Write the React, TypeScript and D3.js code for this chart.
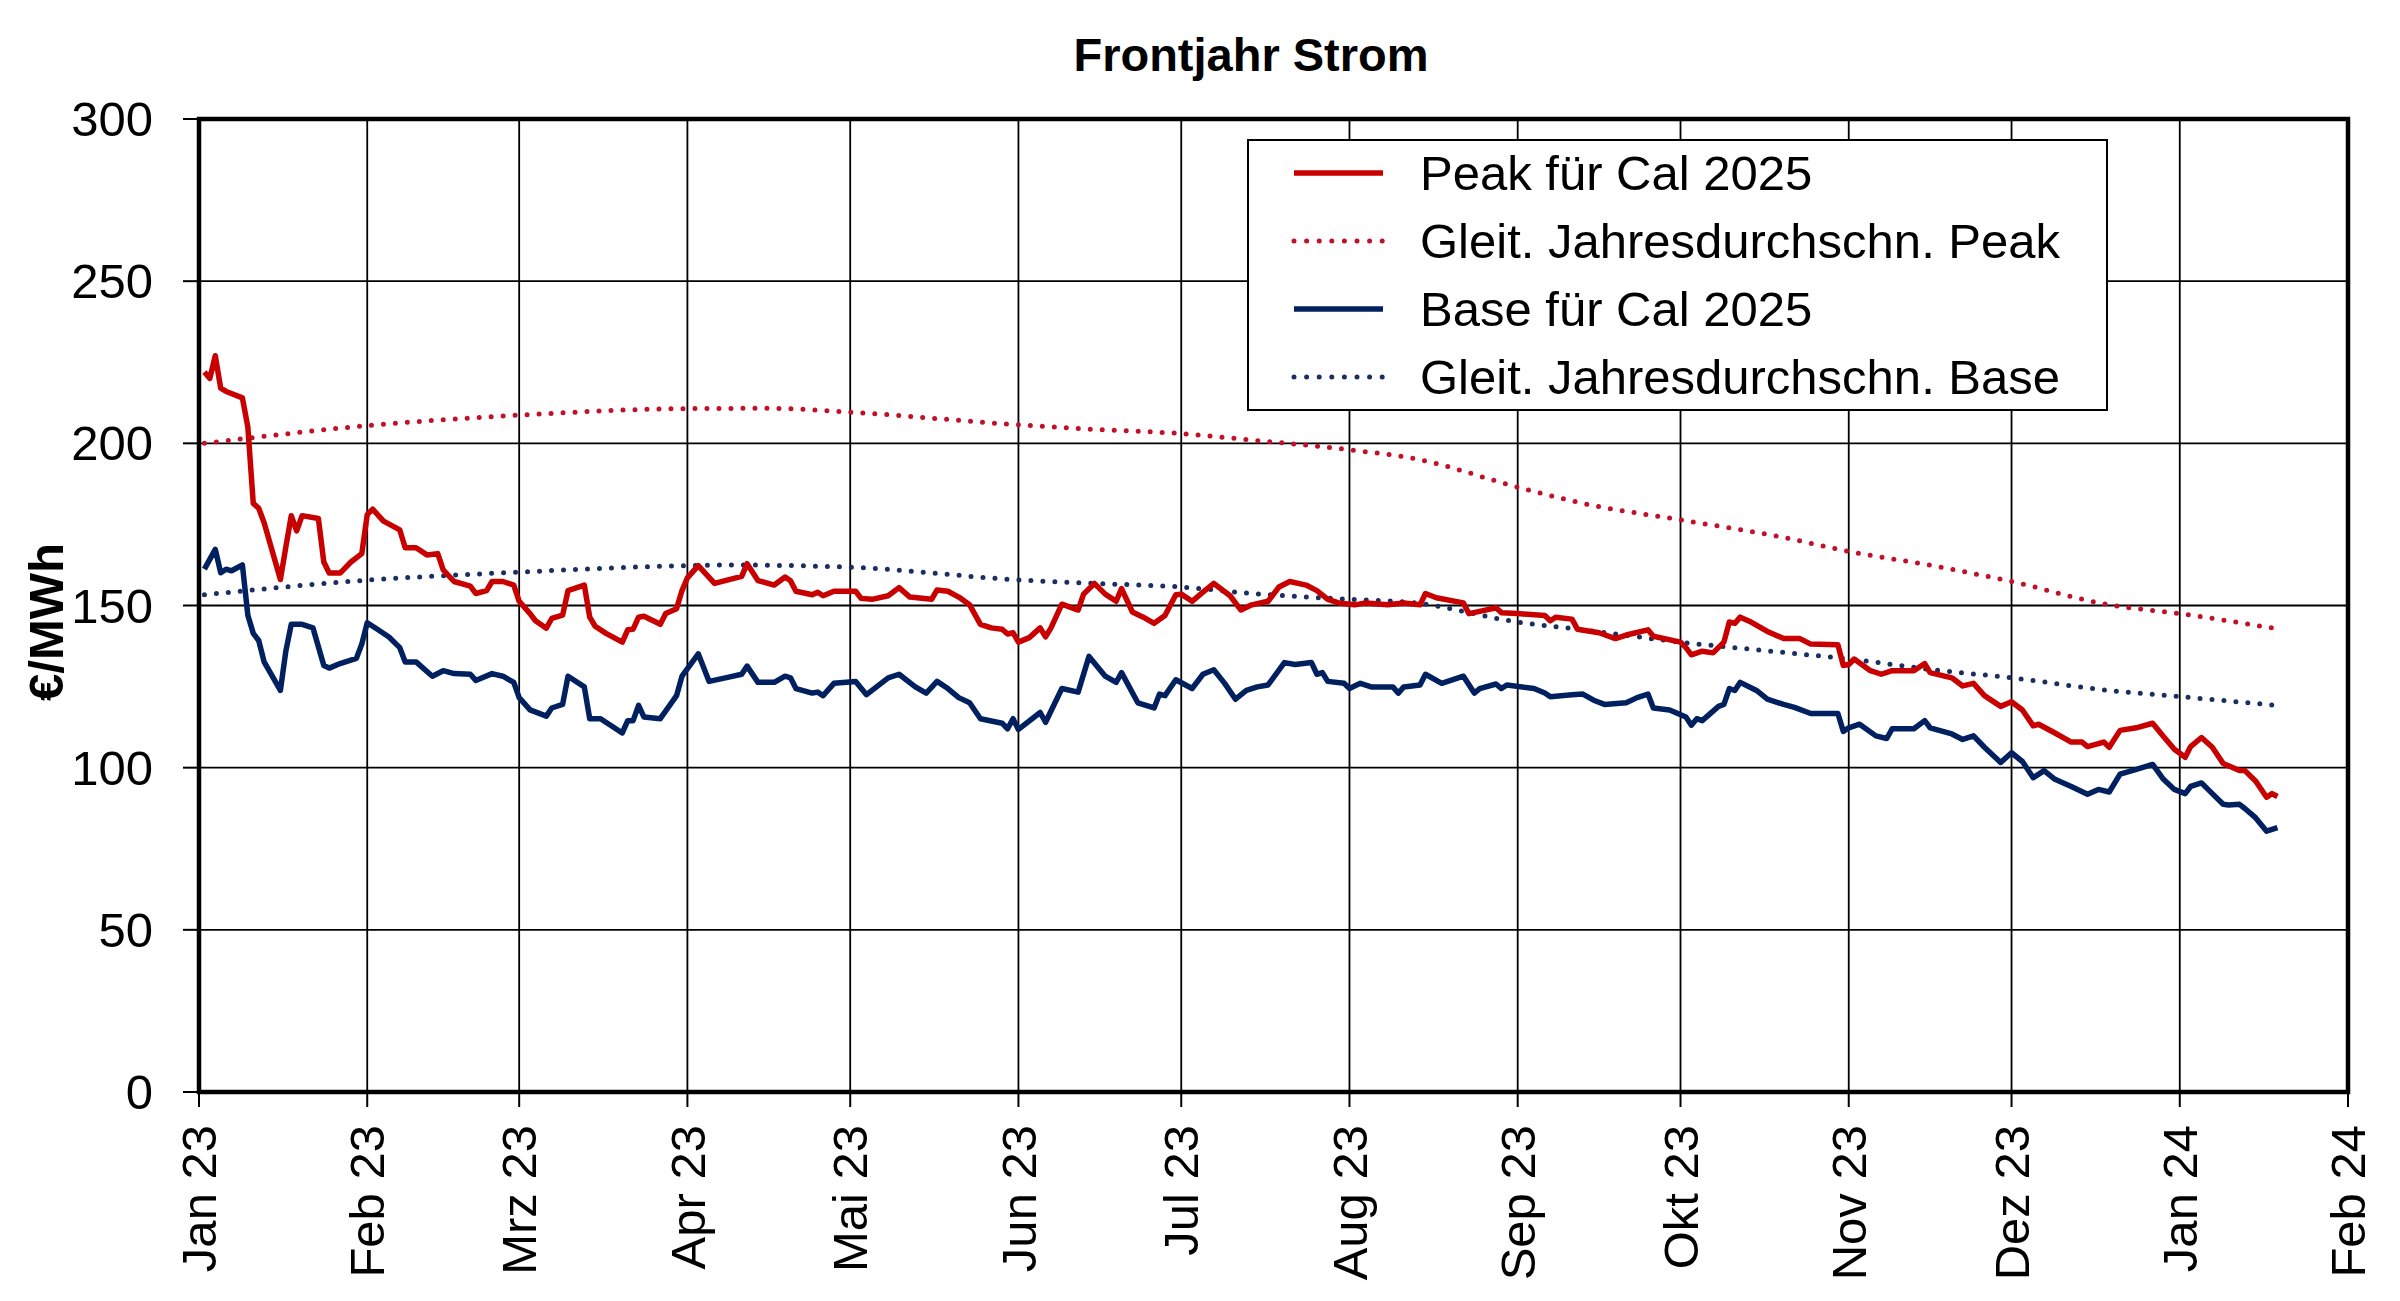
import React from "react";
import * as d3 from "d3";

const title = "Frontjahr Strom";
const yLabel = "€/MWh";
const yTicks = [0, 50, 100, 150, 200, 250, 300];
const xTickLabels = ["Jan 23", "Feb 23", "Mrz 23", "Apr 23", "Mai 23", "Jun 23", "Jul 23", "Aug 23", "Sep 23", "Okt 23", "Nov 23", "Dez 23", "Jan 24", "Feb 24"];
const seriesNames = ["Peak für Cal 2025", "Gleit. Jahresdurchschn. Peak", "Base für Cal 2025", "Gleit. Jahresdurchschn. Base"];

const peakSeries: [string, number][] = [
  ["2023-01-02", 222], ["2023-01-03", 220], ["2023-01-04", 227], ["2023-01-05", 217], ["2023-01-06", 216],
  ["2023-01-09", 214], ["2023-01-10", 205], ["2023-01-11", 181.5], ["2023-01-12", 180], ["2023-01-13", 175.5],
  ["2023-01-16", 158], ["2023-01-17", 168], ["2023-01-18", 177.7], ["2023-01-19", 173], ["2023-01-20", 177.7],
  ["2023-01-23", 176.8], ["2023-01-24", 163.4], ["2023-01-25", 160], ["2023-01-27", 160], ["2023-01-29", 163.4],
  ["2023-01-31", 166], ["2023-02-01", 178], ["2023-02-02", 179.7], ["2023-02-04", 176], ["2023-02-07", 173.3],
  ["2023-02-08", 167.8], ["2023-02-10", 167.8], ["2023-02-12", 165.6], ["2023-02-14", 166], ["2023-02-15", 161],
  ["2023-02-17", 157.4], ["2023-02-20", 156], ["2023-02-21", 153.7], ["2023-02-23", 154.6], ["2023-02-24", 157.4],
  ["2023-02-26", 157.4], ["2023-02-28", 156.3], ["2023-03-01", 151.3], ["2023-03-03", 147.5], ["2023-03-04", 145.3],
  ["2023-03-06", 143], ["2023-03-07", 146], ["2023-03-09", 147], ["2023-03-10", 154.6], ["2023-03-13", 156.3],
  ["2023-03-14", 146.4], ["2023-03-15", 143.6], ["2023-03-17", 141.4], ["2023-03-20", 138.7], ["2023-03-21", 142.5],
  ["2023-03-22", 142.7], ["2023-03-23", 146.4], ["2023-03-24", 146.7], ["2023-03-27", 144.2], ["2023-03-28", 147.5],
  ["2023-03-30", 149], ["2023-03-31", 154.6], ["2023-04-01", 158.5], ["2023-04-03", 162.3], ["2023-04-06", 156.8],
  ["2023-04-11", 159], ["2023-04-12", 162.9], ["2023-04-14", 157.7], ["2023-04-17", 156.3], ["2023-04-19", 158.8],
  ["2023-04-20", 157.6], ["2023-04-21", 154.4], ["2023-04-24", 153.3], ["2023-04-25", 154.1], ["2023-04-26", 153],
  ["2023-04-28", 154.4], ["2023-05-02", 154.4], ["2023-05-03", 152.2], ["2023-05-05", 151.9], ["2023-05-08", 153],
  ["2023-05-10", 155.5], ["2023-05-12", 152.6], ["2023-05-16", 151.9], ["2023-05-17", 154.8], ["2023-05-19", 154.4],
  ["2023-05-21", 152.6], ["2023-05-23", 150.2], ["2023-05-25", 144.2], ["2023-05-27", 143.1], ["2023-05-29", 142.7],
  ["2023-05-30", 141.2], ["2023-05-31", 141.6], ["2023-06-01", 138.7], ["2023-06-03", 140.1], ["2023-06-05", 143.1],
  ["2023-06-06", 140.3], ["2023-06-07", 143.1], ["2023-06-09", 150.4], ["2023-06-12", 148.6], ["2023-06-13", 153.5],
  ["2023-06-15", 156.8], ["2023-06-17", 153.5], ["2023-06-19", 151.3], ["2023-06-20", 155.2], ["2023-06-22", 148],
  ["2023-06-24", 146.4], ["2023-06-26", 144.5], ["2023-06-28", 146.9], ["2023-06-30", 153.3], ["2023-07-01", 153.5],
  ["2023-07-03", 151.3], ["2023-07-05", 154.1], ["2023-07-07", 156.8], ["2023-07-10", 153], ["2023-07-12", 148.6],
  ["2023-07-14", 150.2], ["2023-07-17", 151.3], ["2023-07-19", 155.7], ["2023-07-21", 157.4], ["2023-07-24", 156.3],
  ["2023-07-26", 154.6], ["2023-07-28", 151.9], ["2023-07-30", 150.8], ["2023-08-02", 150.2], ["2023-08-04", 150.8],
  ["2023-08-08", 150.2], ["2023-08-11", 150.8], ["2023-08-14", 150.2], ["2023-08-15", 153.7], ["2023-08-17", 152.4],
  ["2023-08-22", 150.8], ["2023-08-23", 147.5], ["2023-08-25", 148.2], ["2023-08-28", 149.3], ["2023-08-29", 147.8],
  ["2023-09-01", 147.5], ["2023-09-06", 146.9], ["2023-09-07", 145.3], ["2023-09-08", 146.4], ["2023-09-11", 145.8],
  ["2023-09-12", 142.7], ["2023-09-16", 141.6], ["2023-09-19", 139.8], ["2023-09-21", 140.9], ["2023-09-25", 142.5],
  ["2023-09-26", 140.5], ["2023-10-01", 138.7], ["2023-10-02", 137], ["2023-10-03", 134.8], ["2023-10-05", 135.9],
  ["2023-10-07", 135.4], ["2023-10-09", 138.7], ["2023-10-10", 144.9], ["2023-10-11", 144.5], ["2023-10-12", 146.4],
  ["2023-10-14", 144.9], ["2023-10-17", 142], ["2023-10-20", 139.8], ["2023-10-23", 139.8], ["2023-10-25", 138.1],
  ["2023-10-30", 137.9], ["2023-10-31", 131.5], ["2023-11-01", 131.8], ["2023-11-02", 133.5], ["2023-11-05", 129.9],
  ["2023-11-07", 128.8], ["2023-11-09", 129.9], ["2023-11-13", 129.9], ["2023-11-15", 132.1], ["2023-11-16", 129.3],
  ["2023-11-20", 127.7], ["2023-11-22", 125.2], ["2023-11-24", 126], ["2023-11-26", 122.2], ["2023-11-29", 118.9],
  ["2023-12-01", 120.3], ["2023-12-03", 117.8], ["2023-12-05", 112.9], ["2023-12-06", 113.4], ["2023-12-09", 110.7],
  ["2023-12-12", 107.9], ["2023-12-14", 107.9], ["2023-12-15", 106.5], ["2023-12-17", 107.4], ["2023-12-18", 107.9],
  ["2023-12-19", 106.3], ["2023-12-21", 111.5], ["2023-12-24", 112.3], ["2023-12-27", 113.7], ["2023-12-29", 109.6],
  ["2023-12-31", 105.7], ["2024-01-02", 103.2], ["2024-01-03", 106.5], ["2024-01-05", 109.3], ["2024-01-07", 106.3],
  ["2024-01-09", 101.3], ["2024-01-12", 99.1], ["2024-01-13", 99.1], ["2024-01-15", 95.8], ["2024-01-17", 90.9],
  ["2024-01-18", 92], ["2024-01-19", 91.1],
];

const baseSeries: [string, number][] = [
  ["2023-01-02", 161.2], ["2023-01-04", 167.3], ["2023-01-05", 160.1], ["2023-01-06", 161.2], ["2023-01-07", 160.7],
  ["2023-01-09", 162.5], ["2023-01-10", 147], ["2023-01-11", 141.4], ["2023-01-12", 139.2], ["2023-01-13", 132.6],
  ["2023-01-16", 123.8], ["2023-01-17", 135.9], ["2023-01-18", 144.2], ["2023-01-20", 144.2], ["2023-01-22", 143.1],
  ["2023-01-24", 131.5], ["2023-01-25", 130.7], ["2023-01-27", 132.1], ["2023-01-30", 133.7], ["2023-01-31", 138.1],
  ["2023-02-01", 144.7], ["2023-02-03", 142.5], ["2023-02-05", 140.3], ["2023-02-07", 137], ["2023-02-08", 132.6],
  ["2023-02-10", 132.6], ["2023-02-13", 128.2], ["2023-02-15", 129.9], ["2023-02-17", 129], ["2023-02-20", 128.8],
  ["2023-02-21", 126.9], ["2023-02-24", 129], ["2023-02-26", 128.2], ["2023-02-28", 126.3], ["2023-03-01", 121.6],
  ["2023-03-03", 117.8], ["2023-03-06", 115.9], ["2023-03-07", 118.4], ["2023-03-09", 119.5], ["2023-03-10", 128.2],
  ["2023-03-13", 124.9], ["2023-03-14", 115.1], ["2023-03-16", 115.1], ["2023-03-20", 110.7], ["2023-03-21", 114.5],
  ["2023-03-22", 114.5], ["2023-03-23", 119.2], ["2023-03-24", 115.6], ["2023-03-27", 115.1], ["2023-03-30", 122.2],
  ["2023-03-31", 128.2], ["2023-04-03", 135.1], ["2023-04-05", 126.6], ["2023-04-08", 127.7], ["2023-04-11", 128.8],
  ["2023-04-12", 131.3], ["2023-04-14", 126.3], ["2023-04-17", 126.3], ["2023-04-19", 128.2], ["2023-04-20", 127.7],
  ["2023-04-21", 124.4], ["2023-04-24", 123], ["2023-04-25", 123.3], ["2023-04-26", 122.2], ["2023-04-28", 126],
  ["2023-05-02", 126.6], ["2023-05-04", 122.5], ["2023-05-08", 127.7], ["2023-05-10", 128.8], ["2023-05-13", 124.9],
  ["2023-05-15", 123], ["2023-05-17", 126.6], ["2023-05-19", 124.4], ["2023-05-21", 121.6], ["2023-05-23", 120],
  ["2023-05-25", 115.1], ["2023-05-29", 113.7], ["2023-05-30", 112], ["2023-05-31", 115.1], ["2023-06-01", 111.8],
  ["2023-06-05", 117], ["2023-06-06", 114], ["2023-06-09", 124.4], ["2023-06-12", 123.3], ["2023-06-14", 134.3],
  ["2023-06-17", 128.2], ["2023-06-19", 126.3], ["2023-06-20", 129.3], ["2023-06-23", 120], ["2023-06-26", 118.4],
  ["2023-06-27", 122.7], ["2023-06-28", 122.2], ["2023-06-30", 127.1], ["2023-07-03", 124.4], ["2023-07-05", 128.8],
  ["2023-07-07", 130.2], ["2023-07-09", 126], ["2023-07-11", 121.1], ["2023-07-13", 123.8], ["2023-07-15", 124.9],
  ["2023-07-17", 125.5], ["2023-07-20", 132.4], ["2023-07-22", 131.8], ["2023-07-25", 132.4], ["2023-07-26", 128.8],
  ["2023-07-27", 129.3], ["2023-07-28", 126.6], ["2023-07-31", 126], ["2023-08-01", 124.4], ["2023-08-03", 126],
  ["2023-08-05", 124.9], ["2023-08-09", 124.9], ["2023-08-10", 123], ["2023-08-11", 124.9], ["2023-08-14", 125.5],
  ["2023-08-15", 128.8], ["2023-08-18", 126], ["2023-08-22", 128.2], ["2023-08-24", 123], ["2023-08-25", 124.4],
  ["2023-08-28", 125.8], ["2023-08-29", 124.4], ["2023-08-30", 125.5], ["2023-09-04", 124.4], ["2023-09-06", 123],
  ["2023-09-07", 121.9], ["2023-09-11", 122.5], ["2023-09-13", 122.7], ["2023-09-15", 120.8], ["2023-09-17", 119.5],
  ["2023-09-21", 120], ["2023-09-23", 121.6], ["2023-09-25", 122.7], ["2023-09-26", 118.4], ["2023-09-29", 117.8],
  ["2023-10-02", 115.6], ["2023-10-03", 113.1], ["2023-10-04", 115.1], ["2023-10-05", 114.5], ["2023-10-08", 118.9],
  ["2023-10-09", 119.5], ["2023-10-10", 124.4], ["2023-10-11", 123.8], ["2023-10-12", 126.3], ["2023-10-15", 123.8],
  ["2023-10-17", 121.1], ["2023-10-20", 119.5], ["2023-10-22", 118.6], ["2023-10-25", 116.7], ["2023-10-30", 116.7],
  ["2023-10-31", 111.2], ["2023-11-01", 112.3], ["2023-11-03", 113.4], ["2023-11-06", 109.8], ["2023-11-08", 109],
  ["2023-11-09", 112], ["2023-11-13", 112], ["2023-11-15", 114.5], ["2023-11-16", 112.3], ["2023-11-20", 110.4],
  ["2023-11-22", 108.7], ["2023-11-24", 109.8], ["2023-11-26", 106.3], ["2023-11-29", 101.6], ["2023-12-01", 104.6],
  ["2023-12-03", 101.9], ["2023-12-05", 96.9], ["2023-12-07", 99.1], ["2023-12-09", 96.4], ["2023-12-12", 94.2],
  ["2023-12-15", 91.8], ["2023-12-17", 93.3], ["2023-12-19", 92.5], ["2023-12-21", 98], ["2023-12-24", 99.5],
  ["2023-12-27", 101], ["2023-12-29", 96.4], ["2023-12-31", 93.3], ["2024-01-02", 92], ["2024-01-03", 94.2],
  ["2024-01-05", 95.3], ["2024-01-07", 92], ["2024-01-09", 88.7], ["2024-01-10", 88.5], ["2024-01-12", 88.7],
  ["2024-01-13", 87.4], ["2024-01-15", 84.5], ["2024-01-17", 80.4], ["2024-01-19", 81.5],
];

const peakAvgSeries: [string, number][] = [
  ["2023-01-02", 200], ["2023-01-31", 205.3], ["2023-03-01", 208.7], ["2023-04-01", 210.7], ["2023-04-16", 210.8],
  ["2023-05-01", 209.6], ["2023-06-01", 205.7], ["2023-06-15", 204.3], ["2023-07-01", 203], ["2023-07-14", 201],
  ["2023-08-01", 198], ["2023-08-13", 195.3], ["2023-09-01", 186.5], ["2023-09-13", 181.5], ["2023-10-01", 176.4],
  ["2023-10-19", 171.3], ["2023-11-01", 166.7], ["2023-11-18", 161.8], ["2023-12-01", 157.4], ["2023-12-19", 150.2],
  ["2024-01-01", 147.5], ["2024-01-19", 142.8],
];

const baseAvgSeries: [string, number][] = [
  ["2023-01-02", 153.3], ["2023-01-31", 157.7], ["2023-03-01", 160.3], ["2023-04-01", 162.3], ["2023-04-08", 162.5],
  ["2023-05-01", 161.8], ["2023-06-01", 157.9], ["2023-06-15", 156.8], ["2023-07-01", 155.7], ["2023-07-14", 153.7],
  ["2023-08-01", 151.9], ["2023-08-13", 150.8], ["2023-09-01", 144.9], ["2023-09-13", 142.5], ["2023-10-01", 138.7],
  ["2023-10-19", 135.7], ["2023-11-01", 133.5], ["2023-11-18", 129.9], ["2023-12-01", 127.7], ["2023-12-19", 123.8],
  ["2024-01-01", 121.9], ["2024-01-19", 119.2],
];

const xDomain = ["2023-01-01", "2024-02-01"];

const W = 2400;
const H = 1301;
const L = 199, R = 2348, T = 119, B = 1092;
const FONT = "'Liberation Sans', Arial, sans-serif";

const RED = "#C80000";
const RED_DOT = "#C0102A";
const BLUE = "#002060";
const BLUE_DOT = "#1A2E60";

export default function App() {
  const parse = d3.timeParse("%Y-%m-%d");
  const x = d3.scaleTime().domain(xDomain.map((d) => parse(d) as Date)).range([L, R]);
  const y = d3.scaleLinear().domain([0, 300]).range([B, T]);
  const line = d3
    .line<[string, number]>()
    .x((d) => x(parse(d[0]) as Date))
    .y((d) => y(d[1]))
    .curve(d3.curveLinear);
  const smooth = d3
    .line<[string, number]>()
    .x((d) => x(parse(d[0]) as Date))
    .y((d) => y(d[1]))
    .curve(d3.curveMonotoneX);

  const months = d3.timeMonth.range(x.domain()[0], d3.timeDay.offset(x.domain()[1], 1));

  const legendItems = [
    { name: seriesNames[0], color: RED, dotted: false },
    { name: seriesNames[1], color: RED_DOT, dotted: true },
    { name: seriesNames[2], color: BLUE, dotted: false },
    { name: seriesNames[3], color: BLUE_DOT, dotted: true },
  ];

  return (
    <svg width={W} height={H} style={{ position: "absolute", left: 0, top: 0, background: "#fff" }} fontFamily={FONT}>
      <rect x={0} y={0} width={W} height={H} fill="#fff" />
      <text x={1251} y={71} textAnchor="middle" fontSize={47} fontWeight="bold" fill="#000">
        {title}
      </text>

      {/* grid */}
      {yTicks.filter((v) => v > 0 && v < 300).map((v) => (
        <line key={"gy" + v} x1={L} x2={R} y1={y(v)} y2={y(v)} stroke="#000" strokeWidth={1.8} />
      ))}
      {months.slice(1, months.length - 1).map((m, i) => (
        <line key={"gx" + i} x1={x(m)} x2={x(m)} y1={T} y2={B} stroke="#000" strokeWidth={1.8} />
      ))}

      {/* ticks */}
      {yTicks.map((v) => (
        <g key={"ty" + v}>
          <line x1={L - 16} x2={L} y1={y(v)} y2={y(v)} stroke="#000" strokeWidth={2} />
          <text x={153} y={y(v)} dy="0.35em" textAnchor="end" fontSize={49} fill="#000">
            {v}
          </text>
        </g>
      ))}
      {months.map((m, i) => (
        <g key={"tx" + i}>
          <line x1={x(m)} x2={x(m)} y1={B} y2={B + 15} stroke="#000" strokeWidth={2} />
          <text
            transform={`translate(${x(m)},${B + 33}) rotate(-90)`}
            dy="0.35em"
            textAnchor="end"
            fontSize={49}
            fill="#000"
          >
            {xTickLabels[i]}
          </text>
        </g>
      ))}

      <text transform={`translate(46,622) rotate(-90)`} dy="0.35em" textAnchor="middle" fontSize={49} fontWeight="bold" fill="#000">
        {yLabel}
      </text>

      {/* series */}
      <path d={smooth(peakAvgSeries) || ""} fill="none" stroke={RED_DOT} strokeWidth={5} strokeDasharray="0 12" strokeLinecap="round" />
      <path d={smooth(baseAvgSeries) || ""} fill="none" stroke={BLUE_DOT} strokeWidth={5} strokeDasharray="0 12" strokeLinecap="round" />
      <path d={line(baseSeries) || ""} fill="none" stroke={BLUE} strokeWidth={5.5} strokeLinejoin="round" />
      <path d={line(peakSeries) || ""} fill="none" stroke={RED} strokeWidth={5.5} strokeLinejoin="round" />

      {/* frame */}
      <rect x={L} y={T} width={R - L} height={B - T} fill="none" stroke="#000" strokeWidth={4.5} />

      {/* legend */}
      <rect x={1248} y={140} width={859} height={270} fill="#fff" stroke="#000" strokeWidth={2} />
      {legendItems.map((it, i) => {
        const ly = 173 + i * 68;
        return (
          <g key={"lg" + i}>
            <line
              x1={1294}
              x2={1383}
              y1={ly}
              y2={ly}
              stroke={it.color}
              strokeWidth={it.dotted ? 5 : 5.5}
              strokeDasharray={it.dotted ? "0 12.6" : undefined}
              strokeLinecap={it.dotted ? "round" : "butt"}
            />
            <text x={1420} y={ly} dy="0.35em" fontSize={49} fill="#000">
              {it.name}
            </text>
          </g>
        );
      })}
    </svg>
  );
}
